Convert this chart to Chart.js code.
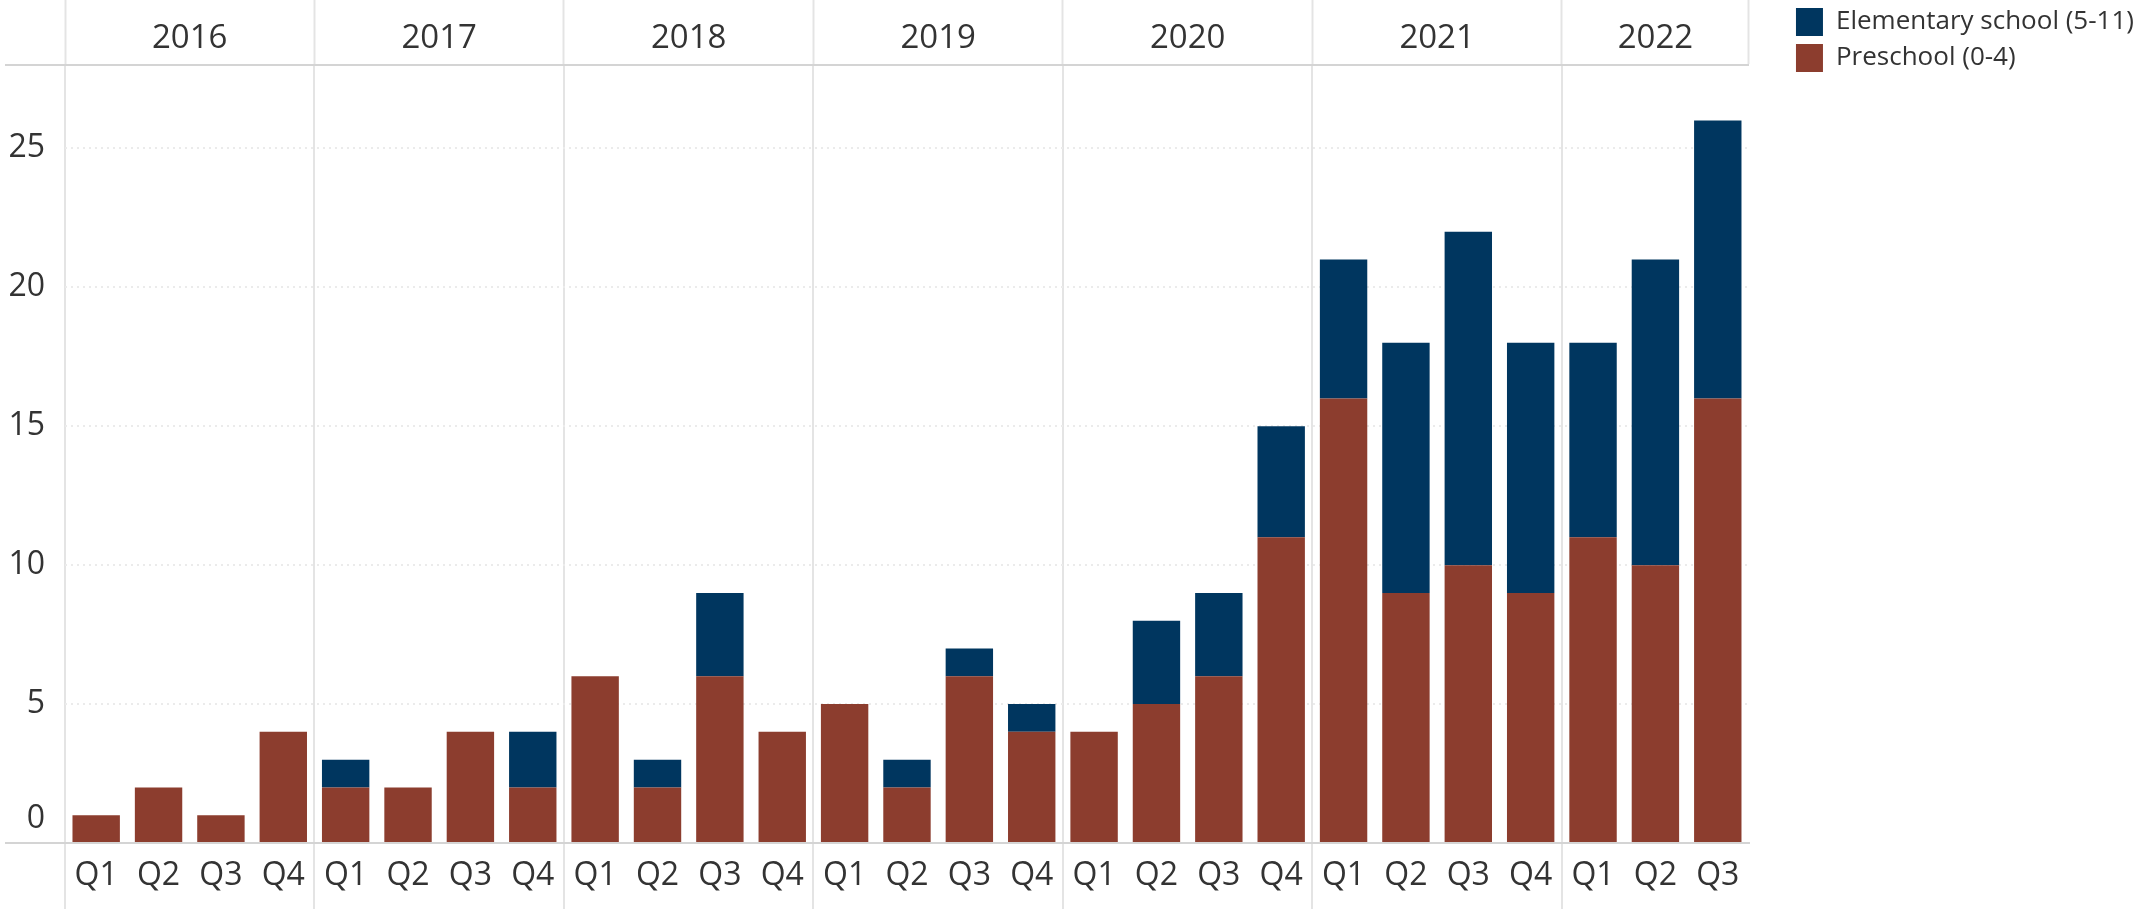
<!DOCTYPE html>
<html>
<head>
<meta charset="utf-8">
<script src="https://cdn.jsdelivr.net/npm/chart.js@4"></script>
<style>
  body { margin: 0; background: #fff; }
</style>
</head>
<body>
<canvas id="kids" width="2139" height="909"></canvas>
<script>
const years = ['2016', '2017', '2018', '2019', '2020', '2021', '2022'];
const quartersPerYear = [4, 4, 4, 4, 4, 4, 3];
const quarterNames = ['Q1', 'Q2', 'Q3', 'Q4'];
const preschool = [1, 2, 1, 4, 2, 2, 4, 2, 6, 2, 6, 4, 5, 2, 6, 4, 4, 5, 6, 11, 16, 9, 10, 9, 11, 10, 16];
const elementary = [0, 0, 0, 0, 1, 0, 0, 2, 0, 1, 3, 0, 0, 1, 1, 1, 0, 3, 3, 4, 5, 9, 12, 9, 7, 11, 10];
const yTicks = [0, 5, 10, 15, 20, 25];
const yMax = 28;

const FONT = "'Open Sans', sans-serif";
const TEXT = '#333';
const LINE = '#d4d4d4';
const SEP = '#e4e4e4';

// quarter labels and the index where each year starts
const labels = [];
const yearStarts = [];
quartersPerYear.forEach(n => {
  yearStarts.push(labels.length);
  for (let q = 0; q < n; q++) labels.push(quarterNames[q]);
});
const yearEdges = yearStarts.concat([labels.length]);

// top axis: a tick at every year edge (line only) and at every year centre (text only)
const yearCentres = yearStarts.map((s, i) => s + quartersPerYear[i] / 2 - 0.5);
const edgeValues = yearEdges.map(e => e - 0.5);

const tickVal = c => (c.tick ? c.tick.value : null);

const ctx = document.getElementById('kids');

new Chart(ctx, {
  type: 'bar',
  data: {
    labels: labels,
    datasets: [
      {
        label: 'Preschool (0-4)',
        data: preschool,
        backgroundColor: '#8c3d2e'
      },
      {
        label: 'Elementary school (5-11)',
        data: elementary,
        backgroundColor: '#00365f'
      }
    ]
  },
  options: {
    responsive: false,
    animation: false,
    categoryPercentage: 1,
    barPercentage: 0.76,
    layout: { padding: { left: 0, top: 0, bottom: 0, right: -5 } },
    plugins: {
      tooltip: { enabled: false },
      legend: {
        position: 'right',
        align: 'start',
        reverse: true,
        labels: {
          boxWidth: 27,
          boxHeight: 28,
          padding: 8,
          color: TEXT,
          font: { family: FONT, size: 26 }
        }
      }
    },
    scales: {
      x: {
        stacked: true,
        position: 'bottom',
        afterFit: s => { s.height = 66; },
        grid: {
          offset: true,
          lineWidth: 2,
          tickLength: 66,
          color: c => yearEdges.includes(c.index) ? SEP : 'transparent',
          tickColor: c => yearEdges.includes(c.index) ? SEP : 'transparent',
          tickWidth: 2
        },
        border: { display: true, color: LINE, width: 2 },
        ticks: {
          autoSkip: false,
          maxRotation: 0,
          padding: -52,
          color: TEXT,
          font: { family: FONT, size: 32 }
        }
      },
      years: {
        type: 'linear',
        position: 'top',
        offset: false,
        min: -0.5,
        max: labels.length - 0.5,
        afterFit: s => { s.height = 65; },
        afterBuildTicks: s => {
          s.ticks = edgeValues.concat(yearCentres).sort((a, b) => a - b).map(v => ({ value: v }));
        },
        grid: {
          offset: false,
          drawOnChartArea: false,
          tickLength: 65,
          tickWidth: 2,
          tickColor: c => edgeValues.includes(tickVal(c)) ? SEP : 'transparent'
        },
        border: { display: true, color: LINE, width: 2 },
        ticks: {
          autoSkip: false,
          maxRotation: 0,
          padding: -58,
          color: TEXT,
          font: { family: FONT, size: 33 },
          callback: v => {
            const i = yearCentres.indexOf(v);
            return i < 0 ? '' : years[i];
          }
        }
      },
      y: {
        stacked: true,
        min: 0,
        max: yMax,
        afterFit: s => { s.width = 65; },
        afterBuildTicks: s => {
          s.ticks = yTicks.concat([yMax]).map(v => ({ value: v }));
        },
        grid: {
          lineWidth: 2,
          tickLength: 60,
          tickWidth: 2,
          tickBorderDash: [],
          color: c => (tickVal(c) === 0 || tickVal(c) === yMax) ? 'transparent' : '#ebebeb',
          tickColor: c => (tickVal(c) === 0 || tickVal(c) === yMax) ? LINE : 'transparent'
        },
        border: { display: false, dash: [2, 4] },
        ticks: {
          autoSkip: false,
          padding: -40,
          color: TEXT,
          font: { family: FONT, size: 32, lineHeight: 1.5 },
          // Tableau lifts the bottom label off the axis line
          callback: v => v === yMax ? '' : (v === 0 ? ['0', ''] : String(v))
        }
      },
      gap: {
        type: 'linear',
        position: 'right',
        display: true,
        afterFit: s => { s.width = 39; },
        grid: { display: false },
        border: { display: false },
        ticks: { display: false }
      }
    }
  }
});
</script>
</body>
</html>
